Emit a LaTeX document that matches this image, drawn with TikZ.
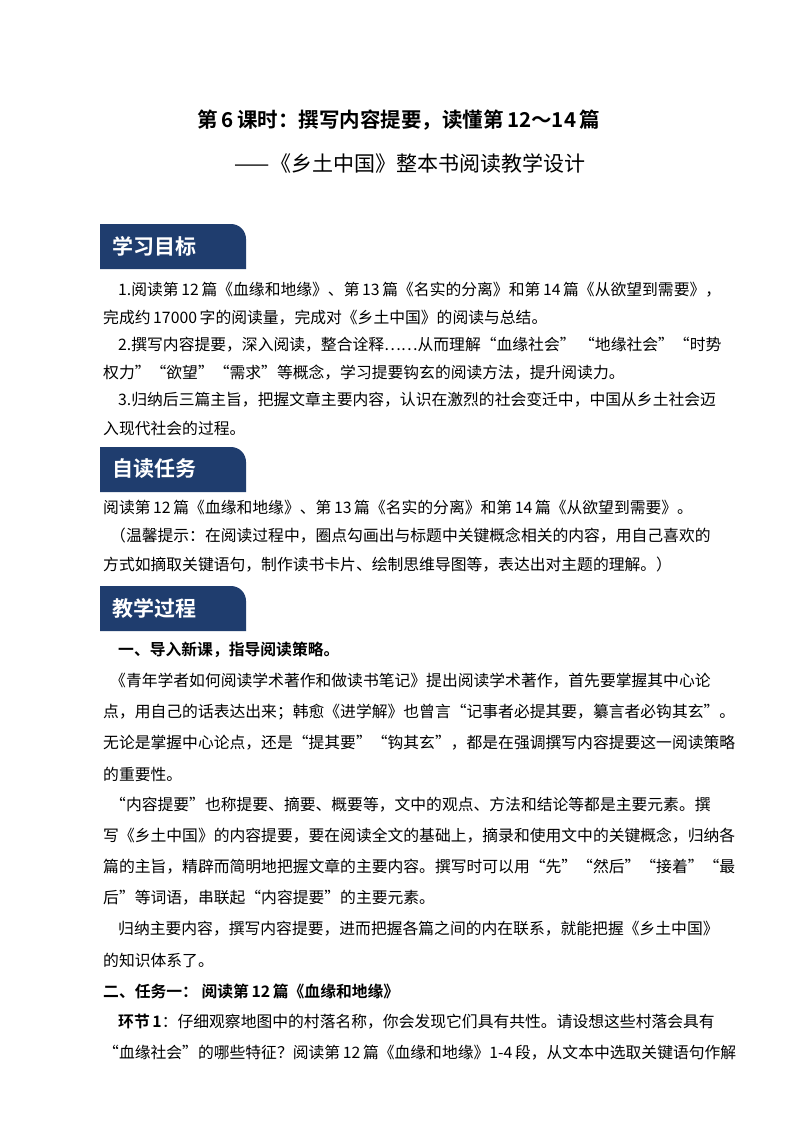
\documentclass[tikz,border=0pt]{standalone}
\usepackage{fontspec}
\setmainfont{Noto Sans CJK SC}[BoldFont={Noto Sans CJK SC Bold}]
\definecolor{tabblue}{HTML}{1F3D6E}
\begin{document}
\begin{tikzpicture}[x=1pt,y=-1pt,
  ln/.style={anchor=west,inner sep=0pt,font=\fontsize{15.8}{18}\selectfont},
  tabtxt/.style={anchor=west,inner sep=0pt,text=white,font=\fontsize{21}{24}\selectfont\bfseries}]
\useasboundingbox (0,0) rectangle (800,1132);
\fill[white] (0,0) rectangle (800,1132);
\node[inner sep=0pt,font=\fontsize{20.5}{22}\selectfont\bfseries] (t1) at (399,120) {第\,6\,课时：撰写内容提要，读懂第\,12～14\,篇};
\node[inner sep=0pt,font=\fontsize{21}{23}\selectfont] (t2) at (410,163) {——《乡土中国》整本书阅读教学设计};
% tabs
\foreach \y/\t [count=\i] in {224/学习目标,447/自读任务,586/教学过程}{
  \fill[tabblue] (100,\y+45) -- (100,\y) [rounded corners=15pt] -- (246,\y) [sharp corners] -- (246,\y+45) -- cycle;
  \node[tabtxt] (tab\i) at (112,\y+22) {\t};
}
\node[ln] (l1) at (118,290) {1.阅读第\,12\,篇《血缘和地缘》、第\,13\,篇《名实的分离》和第\,14\,篇《从欲望到需要》，};
\node[ln] (l2) at (103,318) {完成约\,17000\,字的阅读量，完成对《乡土中国》的阅读与总结。};
\node[ln] (l3) at (118,345) {2.撰写内容提要，深入阅读，整合诠释……从而理解“血缘社会”\ “地缘社会”“时势};
\node[ln] (l4) at (103,373) {权力”“欲望”“需求”等概念，学习提要钩玄的阅读方法，提升阅读力。};
\node[ln] (l5) at (118,400) {3.归纳后三篇主旨，把握文章主要内容，认识在激烈的社会变迁中，中国从乡土社会迈};
\node[ln] (l6) at (103,428) {入现代社会的过程。};
\node[ln] (l7) at (103,507) {阅读第\,12\,篇《血缘和地缘》、第\,13\,篇《名实的分离》和第\,14\,篇《从欲望到需要》。};
\node[ln] (l8) at (110,536) {（温馨提示：在阅读过程中，圈点勾画出与标题中关键概念相关的内容，用自己喜欢的};
\node[ln] (l9) at (103,565) {方式如摘取关键语句，制作读书卡片、绘制思维导图等，表达出对主题的理解。）};
\node[ln,font=\fontsize{15.8}{18}\selectfont\bfseries] (l10) at (118,650) {一、导入新课，指导阅读策略。};
\node[ln] (l11) at (110,681) {《青年学者如何阅读学术著作和做读书笔记》提出阅读学术著作，首先要掌握其中心论};
\node[ln] (l12) at (103,712) {点，用自己的话表达出来；韩愈《进学解》也曾言“记事者必提其要，纂言者必钩其玄”。};
\node[ln] (l13) at (103,743) {无论是掌握中心论点，还是“提其要”“钩其玄”，都是在强调撰写内容提要这一阅读策略};
\node[ln] (l14) at (103,774) {的重要性。};
\node[ln] (l15) at (110,805) {“内容提要”也称提要、摘要、概要等，文中的观点、方法和结论等都是主要元素。撰};
\node[ln] (l16) at (103,836) {写《乡土中国》的内容提要，要在阅读全文的基础上，摘录和使用文中的关键概念，归纳各};
\node[ln] (l17) at (103,867) {篇的主旨，精辟而简明地把握文章的主要内容。撰写时可以用“先”“然后”“接着”“最};
\node[ln] (l18) at (103,898) {后”等词语，串联起“内容提要”的主要元素。};
\node[ln] (l19) at (118,929) {归纳主要内容，撰写内容提要，进而把握各篇之间的内在联系，就能把握《乡土中国》};
\node[ln] (l20) at (103,960) {的知识体系了。};
\node[ln,font=\fontsize{15.8}{18}\selectfont\bfseries] (l21) at (103,991) {二、任务一：\ 阅读第\,12\,篇《血缘和地缘》};
\node[ln] (l22) at (118,1022) {\textbf{环节\,1}：仔细观察地图中的村落名称，你会发现它们具有共性。请设想这些村落会具有};
\node[ln] (l23) at (103,1053) {“血缘社会”的哪些特征？阅读第\,12\,篇《血缘和地缘》1-4\,段，从文本中选取关键语句作解};
\end{tikzpicture}
\end{document}
